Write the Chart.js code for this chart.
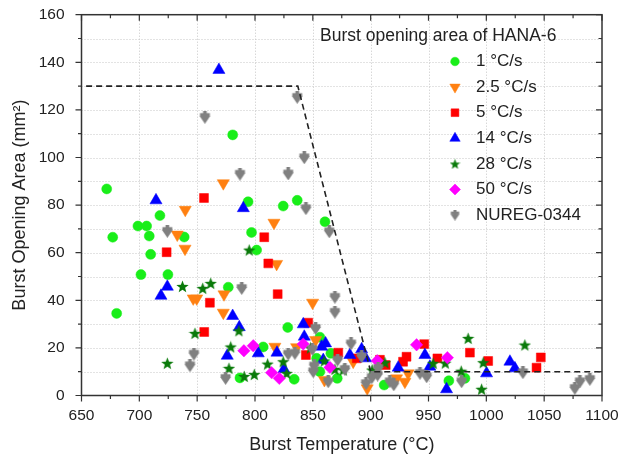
<!DOCTYPE html>
<html><head><meta charset="utf-8">
<script src="https://cdn.jsdelivr.net/npm/chart.js@4/dist/chart.umd.min.js"></script>
<style>html,body{margin:0;padding:0;background:#fff}#wrap{width:620px;height:461px}</style>
</head><body><div id="wrap"><canvas id="c" width="620" height="461"></canvas></div>
<script>
// ---- data ----
const xTickValues = [650,700,750,800,850,900,950,1000,1050,1100];
const yTickValues = [0,20,40,60,80,100,120,140,160];
const seriesNames = ['1 °C/s','2.5 °C/s','5 °C/s','14 °C/s','28 °C/s','50 °C/s','NUREG-0344'];
const legendTitle = 'Burst opening area of HANA-6';

const rate1 = [[671.8,86.8],[677,66.5],[680.4,34.5],[698.8,71.2],[706.3,71.2],[708.6,67],[709.8,59.3],[701.4,50.8],[717.8,75.6],[724.7,50.8],[738.8,66.6],[776.9,45.5],[780.7,109.5],[794,81.4],[797,68.5],[801.4,61.1],[824.4,79.6],[836.5,82],[860.5,73],[828.3,28.6],[807.1,20.4],[787,7.4],[833.9,6.8],[853.3,15.6],[856.1,24.5],[856.1,10],[865.6,17.7],[871.1,7.2],[911.7,4.4],[967.6,6.2],[981.5,7.2]];
const rate2_5 = [[772.6,89.2],[739.7,78],[732.8,67.6],[739.5,61.7],[816.4,72.6],[818.7,55.3],[746.6,40.8],[749.6,40.8],[773.2,42.5],[772.6,34.8],[849.8,39],[852.4,23.3],[817.2,20.5],[836,20.3],[884.9,14.2],[860,6.5],[897,3],[922.4,7.2],[929.6,5.8],[932.4,9.3]];
const rate5 = [[755.9,83],[723.6,60.2],[808,66.5],[811.5,55.5],[819.6,42.6],[761,39],[756.1,26.7],[846,30.6],[844,17],[872,18],[888,15.6],[908,15],[913,12.8],[928,14.2],[931,16.3],[946.3,21.6],[957.7,15.6],[985.8,18],[1001.6,14.5],[1043.4,11.7],[1047.1,16]];
const rate14 = [[768.8,136.8],[714.4,82],[789.9,78.7],[724.2,45.7],[718.7,41.9],[780.7,33.4],[786.4,28.7],[776,16.7],[802.8,17.7],[819,18],[841.7,29.9],[842.6,24.7],[857.6,20.5],[861,21.9],[825,11],[859,14.9],[882,17],[892.2,19.4],[895.6,15.6],[923.8,11.7],[946.9,17],[951.2,12.1],[965.6,2.6],[1000.2,9.3],[1020.4,14.2],[1024.7,11.4]];
const rate28 = [[795,61.1],[737.3,45.8],[754.8,45],[761.7,47.1],[786.1,27.2],[748.1,26.1],[724.2,13.5],[779,20.4],[777.5,11.4],[790.7,8],[799.4,8.8],[810.9,13.2],[824.4,14.2],[827.4,9.3],[848,20],[859.9,14.5],[869.1,11],[876.3,10.7],[901.3,10.7],[912.3,13.8],[954,13.5],[964.5,13.6],[978.3,10.2],[984.3,24],[997.3,13.8],[995.9,2.6],[1033.3,21.2]];
const rate50 = [[790.4,18.8],[798.5,20.9],[814.4,9.6],[821,7.2],[841.7,21.6],[864.8,11.8],[905.7,14.6],[939.7,21.3],[966.3,15.9]];
const nureg = [[756.7,116.9],[836.5,125.3],[787,93],[828.7,93.1],[842.6,99.9],[844,78.5],[864.2,68.8],[724.2,69],[788.5,45],[869.1,41.3],[869.1,35],[747.2,17.4],[743.8,12.5],[774.6,7.2],[852.4,28.2],[828.7,17.4],[834.5,17.7],[849.5,19.4],[883,21.7],[851.2,12.4],[850.4,10],[871.4,14.9],[863.3,5.8],[877.7,11],[892.2,16.3],[906.5,11.4],[896,5],[901,7.5],[906,8.6],[916.6,5.8],[920,4.5],[942.6,9.3],[948.4,7.9],[978.6,5.8],[1031.6,9.6],[1076.5,3],[1080.9,5.8],[1089.5,6.8]];
const limitX = [654,837,900,1100];
const limitY = [130,130,10,10];

// ---- custom marker images ----
function starCanvas(size, color){
  const c=document.createElement('canvas'); c.width=size; c.height=size;
  const g=c.getContext('2d'); const cx=size/2, cy=size/2+0.5, R=size/2, r=R*0.42;
  g.beginPath();
  for(let i=0;i<10;i++){const a=-Math.PI/2+i*Math.PI/5; const rr=i%2?r:R; g.lineTo(cx+rr*Math.cos(a), cy+rr*Math.sin(a));}
  g.closePath(); g.fillStyle=color; g.fill(); return c;
}
function nuregCanvas(size, color){
  const c=document.createElement('canvas'); c.width=size; c.height=size;
  const g=c.getContext('2d'); const s=size;
  g.fillStyle=color;
  g.beginPath(); g.moveTo(s*0.08,s*0.38); g.lineTo(s*0.92,s*0.38); g.lineTo(s*0.5,s*1.0); g.closePath(); g.fill();
  g.fillRect(s*0.36,s*0.0,s*0.28,s*0.62);
  g.fillRect(s*0.12,s*0.18,s*0.76,s*0.24);
  return c;
}
const STAR = starCanvas(13,'#0a7a0a'), STAR_L = starCanvas(11,'#0a7a0a');
const NUR = nuregCanvas(13,'#808080'), NUR_L = nuregCanvas(11,'#808080');

const pts = a => a.map(p=>({x:p[0],y:p[1]}));
const colors = ['#19ee19','#ff8011','#ff0000','#0000ff','#0a7a0a','#ff00ff','#808080'];
const styles = [
  {pointStyle:'circle',radius:5,rotation:0},
  {pointStyle:'triangle',radius:7,rotation:180},
  {pointStyle:'rect',radius:6.3,rotation:0},
  {pointStyle:'triangle',radius:7,rotation:0},
  {pointStyle:STAR,radius:6,rotation:0},
  {pointStyle:'rectRot',radius:6.2,rotation:0},
  {pointStyle:NUR,radius:6,rotation:0}
];
const legendStyles = [
  {pointStyle:'circle',radius:4.3,rotation:0},
  {pointStyle:'triangle',radius:6,rotation:180},
  {pointStyle:'rect',radius:5.5,rotation:0},
  {pointStyle:'triangle',radius:6,rotation:0},
  {pointStyle:STAR_L,radius:5,rotation:0},
  {pointStyle:'rectRot',radius:5.5,rotation:0},
  {pointStyle:NUR_L,radius:5,rotation:0}
];
const seriesData = [rate1,rate2_5,rate5,rate14,rate28,rate50,nureg];

function scatterDs(i){
  const s=styles[i];
  return {type:'scatter',label:seriesNames[i],data:pts(seriesData[i]),
    pointStyle:s.pointStyle,pointRadius:s.radius,pointRotation:s.rotation,
    backgroundColor:colors[i],borderColor:colors[i],borderWidth:0.5,order:10-i};
}
const datasets = [];
for(let i=0;i<7;i++) datasets.push(scatterDs(i));
datasets.push({type:'line',label:'limit',data:limitX.map((x,i)=>({x,y:limitY[i]})),
  borderColor:'#222',borderWidth:1.6,borderDash:[6,4],pointRadius:0,fill:false,order:0});

const FONT = '"Liberation Sans", Arial, sans-serif';
const TXT = '#222';

const decor = {
  id:'decor',
  beforeDatasetsDraw(chart){
    const {ctx, chartArea:a, scales:{x,y}} = chart;
    ctx.save(); ctx.strokeStyle='#c6c6c6'; ctx.lineWidth=1; ctx.setLineDash([1,2]);
    for(const v of xTickValues){ if(v===650||v===1100) continue;
      const px=Math.round(x.getPixelForValue(v))+0.5;
      ctx.beginPath(); ctx.moveTo(px,a.top); ctx.lineTo(px,a.bottom); ctx.stroke(); }
    for(let v=10; v<160; v+=10){
      const py=Math.round(y.getPixelForValue(v))+0.5;
      ctx.beginPath(); ctx.moveTo(a.left,py); ctx.lineTo(a.right,py); ctx.stroke(); }
    ctx.restore();
  },
  afterDraw(chart){
    const {ctx, chartArea:a, scales:{x,y}} = chart;
    ctx.save();
    ctx.strokeStyle='#333'; ctx.lineWidth=1.5; ctx.setLineDash([]);
    ctx.strokeRect(a.left,a.top,a.right-a.left,a.bottom-a.top);
    ctx.lineWidth=1.2;
    for(let v=650; v<=1100; v+=25){
      const major=v%50===0, len=major?6:3.5, px=x.getPixelForValue(v);
      ctx.beginPath(); ctx.moveTo(px,a.bottom); ctx.lineTo(px,a.bottom+len);
      ctx.moveTo(px,a.top); ctx.lineTo(px,a.top+len); ctx.stroke();
    }
    for(let v=0; v<=160; v+=10){
      const major=v%20===0, len=major?6:3.5, py=y.getPixelForValue(v);
      ctx.beginPath(); ctx.moveTo(a.left,py); ctx.lineTo(a.left-len,py);
      ctx.moveTo(a.right,py); ctx.lineTo(a.right-len,py); ctx.stroke();
    }
    // axis titles
    ctx.fillStyle=TXT; ctx.font='18px '+FONT; ctx.textAlign='center'; ctx.textBaseline='middle';
    ctx.fillText('Burst Temperature (°C)', (a.left+a.right)/2, 445);
    ctx.save(); ctx.translate(20,(a.top+a.bottom)/2); ctx.rotate(-Math.PI/2);
    ctx.fillText('Burst Opening Area (mm²)',0,0); ctx.restore();
    // legend
    ctx.textAlign='left';
    ctx.font='17.5px '+FONT;
    ctx.fillText(legendTitle, 320, 36);
    ctx.font='17px '+FONT;
    for(let i=0;i<7;i++){
      const yy=61.5+25.6*i, s=legendStyles[i];
      ctx.fillStyle=colors[i]; ctx.strokeStyle=colors[i]; ctx.lineWidth=0.5;
      Chart.helpers.drawPoint(ctx,{pointStyle:s.pointStyle,radius:s.radius,rotation:s.rotation,borderWidth:0.5},455,yy);
      ctx.fillStyle=TXT;
      ctx.fillText(seriesNames[i],476,yy);
    }
    ctx.restore();
  }
};

new Chart(document.getElementById('c'),{
  data:{datasets},
  options:{
    responsive:false, animation:false, devicePixelRatio:1,
    layout:{padding:{left:0,right:18,top:14.7,bottom:0}},
    plugins:{legend:{display:false},tooltip:{enabled:false}},
    scales:{
      x:{type:'linear',min:650,max:1100,
        afterBuildTicks(s){ s.ticks = xTickValues.map(v=>({value:v})); },
        afterFit(s){ s.height = 461-395.5; s.paddingLeft=0; s.paddingRight=0; },
        grid:{display:false,drawTicks:false}, border:{display:false},
        ticks:{padding:11,color:TXT,font:{family:FONT,size:15.5},autoSkip:false,maxRotation:0,callback:v=>String(v)}},
      y:{type:'linear',min:0,max:160,
        afterBuildTicks(s){ s.ticks = yTickValues.map(v=>({value:v})); },
        afterFit(s){ s.width = 81.5; s.paddingTop=0; s.paddingBottom=0; },
        grid:{display:false,drawTicks:false}, border:{display:false},
        ticks:{padding:17,color:TXT,font:{family:FONT,size:15.5},autoSkip:false,callback:v=>String(v)}}
    }
  },
  plugins:[decor]
});
</script></body></html>
